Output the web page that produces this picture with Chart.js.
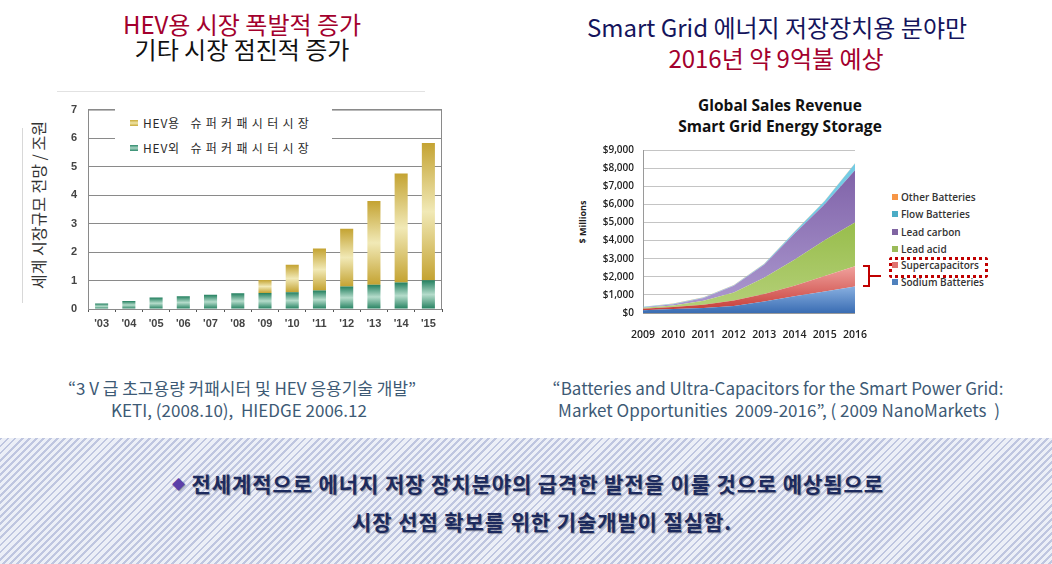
<!DOCTYPE html>
<html>
<head>
<meta charset="utf-8">
<script src="https://cdn.jsdelivr.net/npm/chart.js@4.4.1/dist/chart.umd.min.js"></script>
<style>
  html, body { margin: 0; padding: 0; background: #fff; }
  #page { position: relative; width: 1052px; height: 564px; overflow: hidden; font-family: "Noto Sans CJK KR", "Noto Sans", sans-serif; }
  .t { position: absolute; white-space: nowrap; text-align: center; }
  .abs { position: absolute; }
  .leg { position: absolute; font-family: "Open Sans", sans-serif; font-size: 10px; font-weight: 600; color: #333; white-space: nowrap; line-height: 12px; }
  .leg i { display: inline-block; width: 6px; height: 6px; margin-right: 3px; vertical-align: 1px; }
  .lleg { position: absolute; font-size: 12px; color: #2a2a2a; letter-spacing: 4.3px; white-space: nowrap; line-height: 14px; }
  .lleg i { display: inline-block; width: 8px; height: 6px; margin-right: 5px; vertical-align: 2px; }
  .lleg b { font-weight: normal; letter-spacing: 0.8px; }
  #band { position: absolute; left: 0; top: 438px; width: 1052px; height: 126px;
    background: repeating-linear-gradient(135deg, #bfc6e0 0px, #bfc6e0 2px, #eceff7 2px, #eceff7 5px); }
  .bt { position: absolute; white-space: nowrap; text-align: center; font-weight: bold; font-size: 21px; letter-spacing: 0.9px; color: #1d2b5e;
    text-shadow: 1px 1px 1px rgba(40,40,60,0.45); }
  .src { position: absolute; white-space: nowrap; text-align: center; font-size: 17px; line-height: 22px; color: #3d5a75; }
</style>
</head>
<body>
<div id="page">
  <div class="t" style="left:42px;width:400px;top:8px;font-size:24px;line-height:32px;color:#a3002d;">HEV용 시장 폭발적 증가</div>
  <div class="t" style="left:42px;width:400px;top:33px;font-size:24px;line-height:32px;color:#111;">기타 시장 점진적 증가</div>
  <div class="t" style="left:577px;width:400px;top:11px;font-size:24px;line-height:32px;color:#14145c;">Smart Grid 에너지 저장장치용 분야만</div>
  <div class="t" style="left:576px;width:400px;top:42px;font-size:24px;line-height:32px;color:#a3002d;">2016년 약 9억불 예상</div>

  <!-- left chart frame lines -->
  <div class="abs" style="left:57px;top:91px;width:368px;height:1px;background:#e2e2e2;"></div>
  <div class="abs" style="left:22px;top:128px;width:1px;height:175px;background:#d8d8d8;"></div>
  <div class="t" style="left:-52px;top:195px;width:180px;font-size:16px;line-height:20px;color:#333;transform:rotate(-90deg);">세계 시장규모 전망 / 조원</div>

  <div class="abs" style="left:0;top:92px;width:450px;height:250px;"><canvas id="leftChart"></canvas></div>

  <div class="abs" style="left:115px;top:109px;width:217px;height:50px;background:#fff;"></div>
  <div class="lleg" style="left:130px;top:116px;"><i style="background:linear-gradient(#c9aa3a,#efe5a8,#c9aa3a);"></i><b>HEV</b>용 슈퍼커패시터시장</div>
  <div class="lleg" style="left:130px;top:141px;"><i style="background:linear-gradient(#2e8a6c,#a9d4c3,#2e8a6c);"></i><b>HEV</b>외 슈퍼커패시터시장</div>

  <!-- right chart -->
  <div class="t" style="left:630px;width:300px;top:95px;font-family:'Open Sans',sans-serif;font-weight:bold;font-size:15.5px;line-height:21px;color:#111;">Global Sales Revenue<br>Smart Grid Energy Storage</div>
  <div class="t" style="left:553px;top:216px;width:60px;font-family:'Open Sans',sans-serif;font-weight:bold;font-size:9px;line-height:12px;color:#222;transform:rotate(-90deg);">$ Millions</div>

  <div class="abs" style="left:575px;top:135px;width:300px;height:210px;"><canvas id="rightChart"></canvas></div>

  <div class="leg" style="left:892px;top:191px;"><i style="background:#f79646;"></i>Other Batteries</div>
  <div class="leg" style="left:892px;top:208px;"><i style="background:#4bacc6;"></i>Flow Batteries</div>
  <div class="leg" style="left:892px;top:226px;"><i style="background:#8064a2;"></i>Lead carbon</div>
  <div class="leg" style="left:892px;top:243px;"><i style="background:#9bbb59;"></i>Lead acid</div>
  <div class="leg" style="left:892px;top:259px;"><i style="background:#e07370;"></i>Supercapacitors</div>
  <div class="leg" style="left:892px;top:276px;"><i style="background:#4f81bd;"></i>Sodium Batteries</div>
  <div class="abs" style="left:889px;top:257px;width:93px;height:15px;border:3px dotted #c00000;border-radius:3px;"></div>
  <svg class="abs" style="left:860px;top:262px;" width="24" height="28">
    <path d="M3 4 H9 V24 H3 M9 14 H21" fill="none" stroke="#c00000" stroke-width="2"/>
  </svg>

  <!-- sources -->
  <div class="src" style="left:42px;width:400px;top:377px;">“3 V 급 초고용량 커패시터 및 HEV 응용기술 개발”</div>
  <div class="src" style="left:39px;width:400px;top:399px;">KETI, (2008.10),&nbsp; HIEDGE 2006.12</div>
  <div class="src" style="left:528px;width:500px;top:377px;">“Batteries and Ultra-Capacitors for the Smart Power Grid:</div>
  <div class="src" style="left:529px;width:500px;top:399px;">Market Opportunities&nbsp; 2009-2016”, ( 2009 NanoMarkets&nbsp; )</div>

  <div id="band"></div>
  <div class="bt" style="left:128px;width:800px;top:469px;line-height:28px;"><span style="color:#5b3ea8;font-size:13px;vertical-align:3px;">◆</span> 전세계적으로 에너지 저장 장치분야의 급격한 발전을 이룰 것으로 예상됨으로</div>
  <div class="bt" style="left:142px;width:800px;top:507px;line-height:28px;">시장 선점 확보를 위한 기술개발이 절실함.</div>
</div>

<script>
// left chart: 세계 슈퍼커패시터 시장규모 (조원)
const hevYears = ["'03", "'04", "'05", "'06", "'07", "'08", "'09", "'10", "'11", "'12", "'13", "'14", "'15"];
const hevOther = [0.19, 0.28, 0.40, 0.45, 0.50, 0.55, 0.56, 0.59, 0.65, 0.79, 0.85, 0.93, 1.01];
const hevUse = [0, 0, 0, 0, 0, 0, 0.46, 0.96, 1.47, 2.03, 2.94, 3.83, 4.82];
const hevTicks = [0, 1, 2, 3, 4, 5, 6, 7];

// right chart: Global Sales Revenue ($ Millions)
const gridYears = ['2009', '2010', '2011', '2012', '2013', '2014', '2015', '2016'];
const sodium = [150, 220, 270, 380, 630, 920, 1190, 1460];
const supercap = [90, 110, 180, 310, 420, 580, 850, 1120];
const leadAcid = [50, 90, 230, 440, 900, 1440, 1980, 2420];
const leadCarbon = [30, 60, 150, 370, 720, 1430, 1980, 2880];
const flowBatt = [20, 30, 30, 30, 40, 100, 180, 370];
const otherBatt = [10, 10, 10, 10, 10, 10, 20, 20];

const tickFont = { family: 'Liberation Sans', size: 11, weight: 'bold' };

function barGradient(ctx, from, to, edge, mid) {
    const chart = ctx.chart;
    const y = chart.scales.y;
    if (!y) return edge;
    const i = ctx.dataIndex;
    const top = y.getPixelForValue(to[i]);
    const bot = y.getPixelForValue(from[i]);
    if (!isFinite(top) || top === bot) return edge;
    const g = chart.ctx.createLinearGradient(0, top, 0, bot);
    g.addColorStop(0, edge);
    g.addColorStop(0.5, mid);
    g.addColorStop(1, edge);
    return g;
}

const zeros = hevOther.map(() => 0);
const totals = hevOther.map((v, i) => v + hevUse[i]);

const frame = {
    id: 'frame',
    afterDatasetsDraw(chart) {
        const a = chart.chartArea;
        const c = chart.ctx;
        c.save();
        c.strokeStyle = '#8a8a8a';
        c.lineWidth = 1;
        c.strokeRect(a.left + 0.5, a.top + 0.5, a.right - a.left - 1, a.bottom - a.top);
        c.restore();
    }
};

new Chart(document.getElementById('leftChart'), {
    type: 'bar',
    data: {
        labels: hevYears,
        datasets: [
            {
                label: 'HEV외 슈퍼커패시터시장',
                data: hevOther,
                backgroundColor: ctx => barGradient(ctx, zeros, hevOther, '#23805f', '#b5dccb'),
                barPercentage: 0.48,
                categoryPercentage: 1
            },
            {
                label: 'HEV용 슈퍼커패시터시장',
                data: hevUse,
                backgroundColor: ctx => barGradient(ctx, hevOther, totals, '#c4a332', '#f1e9b6'),
                barPercentage: 0.48,
                categoryPercentage: 1
            }
        ]
    },
    options: {
        responsive: true,
        maintainAspectRatio: false,
        animation: false,
        layout: { padding: { top: 11, right: 8, left: 0, bottom: 0 } },
        plugins: { legend: { display: false }, tooltip: { enabled: false } },
        scales: {
            x: {
                stacked: true,
                grid: { drawOnChartArea: false, drawTicks: true, tickLength: 3, color: '#555' },
                border: { color: '#555' },
                ticks: { font: tickFont, color: '#444', padding: 5 },
                afterFit: s => { s.height = 33; }
            },
            y: {
                stacked: true,
                min: 0,
                max: 7,
                afterBuildTicks: s => { s.ticks = hevTicks.map(v => ({ value: v })); },
                grid: { color: '#8a8a8a', drawTicks: false },
                border: { color: '#8a8a8a' },
                ticks: { font: tickFont, color: '#444', padding: 11 },
                afterFit: s => { s.width = 88; }
            }
        }
    },
    plugins: [frame]
});

function areaGradient(top, topColor, bottom, bottomColor) {
    return ctx => {
        const chart = ctx.chart;
        const y = chart.scales.y;
        if (!chart.chartArea || !y) return bottomColor;
        const g = chart.ctx.createLinearGradient(0, y.getPixelForValue(top), 0, y.getPixelForValue(bottom));
        g.addColorStop(0, topColor);
        g.addColorStop(1, bottomColor);
        return g;
    };
}

const gridSeries = [
    { label: 'Sodium Batteries', data: sodium, bg: areaGradient(1600, '#8fb5e4', 0, '#3a6db3'), fill: 'origin' },
    { label: 'Supercapacitors', data: supercap, bg: areaGradient(2700, '#f2a6a2', 200, '#c8403b'), fill: '-1' },
    { label: 'Lead acid', data: leadAcid, bg: areaGradient(5000, '#98bd4c', 500, '#b3cf76'), fill: '-1' },
    { label: 'Lead carbon', data: leadCarbon, bg: areaGradient(8000, '#7f62a8', 1000, '#a894cc'), fill: '-1' },
    { label: 'Flow Batteries', data: flowBatt, bg: '#74cbe4', fill: '-1' },
    { label: 'Other Batteries', data: otherBatt, bg: '#f79646', fill: '-1' }
];

const rightFont = { family: 'Open Sans', size: 10, weight: '600' };

new Chart(document.getElementById('rightChart'), {
    type: 'line',
    data: {
        labels: gridYears,
        datasets: gridSeries.map(s => ({
            label: s.label,
            data: s.data,
            backgroundColor: s.bg,
            borderWidth: 0,
            borderColor: 'rgba(0,0,0,0)',
            pointRadius: 0,
            fill: s.fill,
            tension: 0
        }))
    },
    options: {
        responsive: true,
        maintainAspectRatio: false,
        animation: false,
        layout: { padding: { top: 11, right: 14, left: 0, bottom: 0 } },
        plugins: { legend: { display: false }, tooltip: { enabled: false } },
        scales: {
            x: {
                grid: { display: false },
                border: { color: '#9a9a9a' },
                ticks: { font: { family: 'Open Sans', size: 10.5, weight: '600' }, color: '#222', padding: 8, maxRotation: 0 },
                afterFit: s => { s.height = 32; }
            },
            y: {
                stacked: true,
                min: 0,
                max: 9000,
                grid: { color: '#c4c4c4', drawTicks: false },
                border: { color: '#9a9a9a' },
                ticks: {
                    stepSize: 1000,
                    font: rightFont,
                    color: '#222',
                    padding: 9,
                    callback: v => '$' + v.toLocaleString('en-US')
                },
                afterFit: s => { s.width = 68; }
            }
        }
    }
});
</script>
</body>
</html>
